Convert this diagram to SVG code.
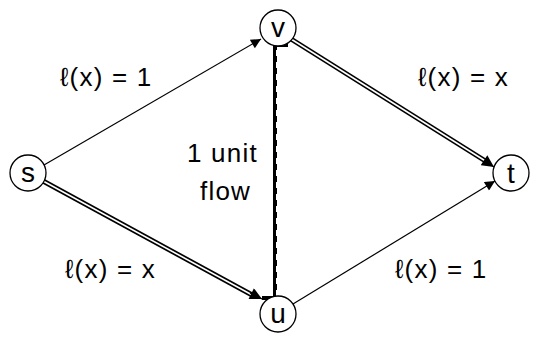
<svg xmlns="http://www.w3.org/2000/svg" width="549" height="343" viewBox="0 0 549 343">
<defs>
<style>
.node circle{fill:#fff;stroke:#000;stroke-width:1.3}
.node text,.lbl{font-family:"Liberation Sans",Arial,sans-serif;font-size:26px;fill:#000}
.node text{text-anchor:middle;font-size:28px}
.lbl{letter-spacing:1.2px}
.thin{stroke:#000;stroke-width:1.2;fill:none}
.dbl{stroke:#000;stroke-width:5;fill:none}
.dblw{stroke:#fff;stroke-width:1.6;fill:none}
</style>
<marker id="ah" viewBox="0 0 10 10" refX="10" refY="5" markerWidth="12" markerHeight="10" markerUnits="userSpaceOnUse" orient="auto">
<path d="M0,0 L10,5 L0,10 z" fill="#000"/>
</marker>
<marker id="ahb" viewBox="0 0 10 10" refX="10" refY="5" markerWidth="13" markerHeight="12" markerUnits="userSpaceOnUse" orient="auto">
<path d="M0,0 L10,5 L0,10 z" fill="#000"/>
</marker>
</defs>
<rect width="549" height="343" fill="#fff"/>
<g id="connectors">
<line class="thin" x1="44" y1="165" x2="261" y2="39" marker-end="url(#ah)"/>
<line class="thin" x1="293" y1="304" x2="495" y2="181" marker-end="url(#ah)"/>
<line class="dbl" x1="43" y1="181" x2="254" y2="296"/>
<line class="dblw" x1="43" y1="181" x2="254" y2="296"/>
<path d="M250,293 L262,299" class="thin" marker-end="url(#ahb)"/>
<path d="M262,298 L275,298 L275,45 L288,45" stroke="#000" stroke-width="4" fill="none"/>
<line x1="276.5" y1="50" x2="276.5" y2="296" stroke="#fff" stroke-width="1" stroke-dasharray="6,6"/>
<line class="dbl" x1="291" y1="39" x2="487" y2="162"/>
<line class="dblw" x1="291" y1="39" x2="487" y2="162"/>
<path d="M485,161 L494,167" class="thin" marker-end="url(#ahb)"/>
</g>
<g id="s" class="node"><circle cx="28" cy="173" r="18"/><text x="28" y="182">s</text></g>
<g id="v" class="node"><circle cx="278" cy="28" r="18"/><text x="278" y="37">v</text></g>
<g id="u" class="node"><circle cx="278" cy="314" r="18"/><text x="278" y="323">u</text></g>
<g id="t" class="node"><circle cx="511" cy="173" r="18"/><text x="511" y="183">t</text></g>
<g id="labels">
<text class="lbl" x="60" y="86">ℓ(x) = 1</text>
<text class="lbl" x="418" y="86">ℓ(x) = x</text>
<text class="lbl" x="65" y="278">ℓ(x) = x</text>
<text class="lbl" x="395" y="278">ℓ(x) = 1</text>
<text class="lbl" x="187" y="162">1 unit</text>
<text class="lbl" x="200" y="200">flow</text>
</g>
</svg>
